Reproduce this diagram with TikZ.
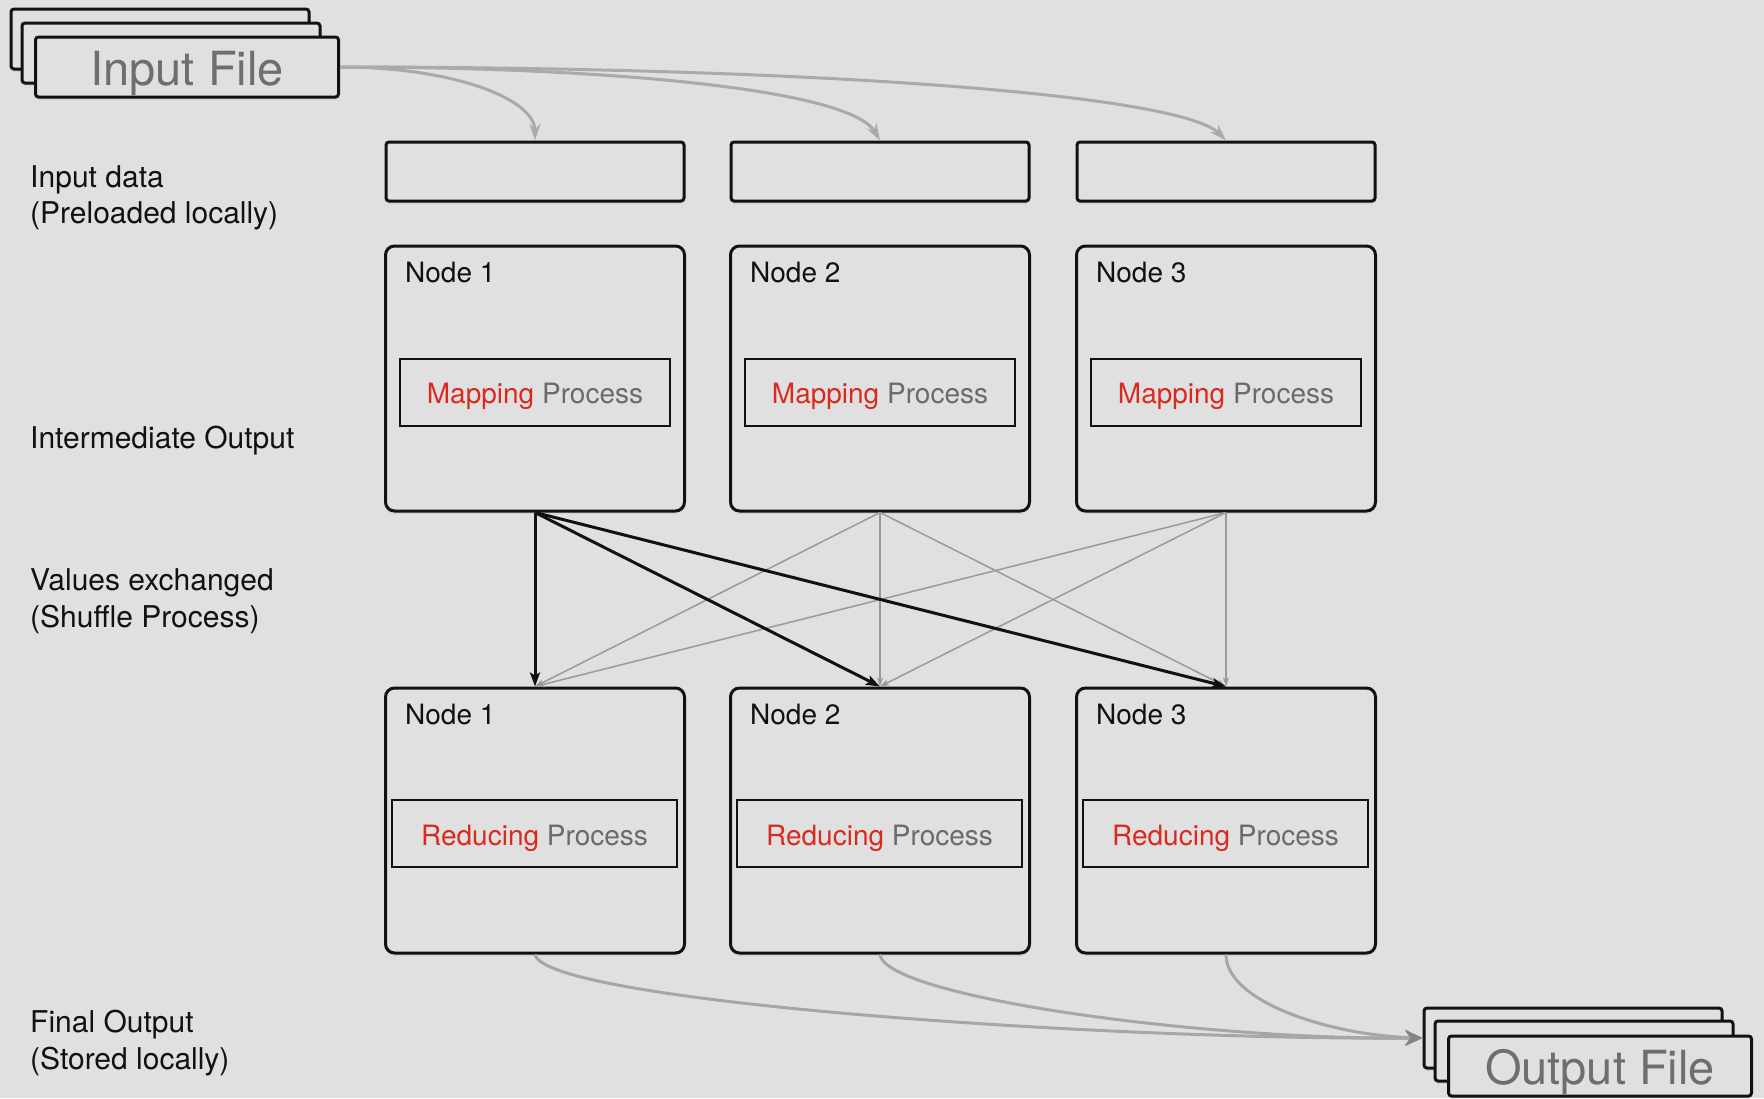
\documentclass[tikz,border=0pt]{standalone}
\usepackage{fontspec}
\setmainfont{TeX Gyre Heros}
\usetikzlibrary{arrows.meta,shadows}
\definecolor{bg}{HTML}{E0E0E0}
\definecolor{ink}{HTML}{111111}
\definecolor{mapred}{HTML}{D92A1E}
\definecolor{procgray}{HTML}{6A6A6A}
\definecolor{filegray}{HTML}{6E6E6E}
\definecolor{feedgray}{HTML}{AAAAAA}
\definecolor{shufgray}{HTML}{9A9A9A}
\definecolor{outgray}{HTML}{A6A6A6}
\definecolor{tipgray}{HTML}{858585}

\begin{document}
\begin{tikzpicture}[x=1pt,y=-1pt,
  softshadow/.style={drop shadow={opacity=0.13,shadow xshift=0pt,shadow yshift=-3pt}},
  sheet/.style={draw=ink,line width=3pt,fill=bg,rounded corners=3pt,
    minimum width=298pt,minimum height=60pt,inner sep=0pt,softshadow},
  frontsheet/.style={sheet,minimum width=303pt,text=filegray,
    font=\fontsize{47}{56}\selectfont,text height=46pt,text depth=10pt},
  databox/.style={draw=ink,line width=3pt,fill=bg,rounded corners=3pt,
    minimum width=298pt,minimum height=59pt,inner sep=0pt,softshadow},
  hostbox/.style={draw=ink,line width=3pt,fill=bg,rounded corners=9pt,
    minimum width=299pt,minimum height=265pt,inner sep=0pt,softshadow},
  taskbox/.style={draw=ink,line width=2pt,minimum height=67pt,inner sep=0pt,
    font=\fontsize{28}{34}\selectfont,text height=29pt,text depth=6pt},
  hostlabel/.style={anchor=base west,inner sep=0pt,text=ink,font=\fontsize{28}{34}\selectfont},
  sidelabel/.style={anchor=base west,inner sep=0pt,text=ink,font=\fontsize{30}{37}\selectfont},
  feed/.style={draw=feedgray,line width=3pt,-{Stealth[length=17pt,width=11pt,inset=6pt]}},
  mainshuffle/.style={draw=ink,line width=3pt,-{Stealth[length=14pt,width=10pt,inset=3pt]}},
  sideshuffle/.style={draw=shufgray,line width=1.5pt,-{Stealth[length=9pt,width=6pt,inset=2pt]}},
  collect/.style={draw=outgray,line width=3pt,-{Stealth[length=17pt,width=15pt,inset=5pt,color=tipgray]}}
]
\useasboundingbox (0,0) rectangle (1764,1098);
\fill[bg] (0,0) rectangle (1764,1098);

% input file stack
\node[sheet] (inback) at (160,39) {};
\node[sheet] (inmid) at (171,53) {};
\node[frontsheet] (infile) at (187,67) {Input File};

% side labels
\node[sidelabel] (lbldata) at (30,187) {Input data};
\node[sidelabel] (lbldata2) at (30,223) {(Preloaded locally)};
\node[sidelabel] (lblinter) at (30,448) {Intermediate Output};
\node[sidelabel] (lblshuf) at (30,590) {Values exchanged};
\node[sidelabel] (lblshuf2) at (30,627) {(Shuffle Process)};
\node[sidelabel] (lblfinal) at (30,1032) {Final Output};
\node[sidelabel] (lblfinal2) at (30,1069) {(Stored locally)};

% input splits, mapper hosts and reducer hosts
\foreach \i/\x in {1/535,2/880,3/1226}{
  \node[databox] (d\i) at (\x,171.5) {};
  \node[hostbox] (m\i) at (\x,378.5) {};
  \node[hostlabel] (m\i label) at ([xshift=21pt,yshift=-38pt]m\i.north west) {Node \i};
  \node[taskbox,minimum width=270pt] (m\i task) at (\x,392)
    {\textcolor{mapred}{Mapping} \textcolor{procgray}{Process}};
  \node[hostbox] (r\i) at (\x,820.5) {};
  \node[hostlabel] (r\i label) at ([xshift=21pt,yshift=-38pt]r\i.north west) {Node \i};
  \node[taskbox,minimum width=285pt] (r\i task) at (\x-0.5,833.5)
    {\textcolor{mapred}{Reducing} \textcolor{procgray}{Process}};
}

% output file stack
\node[sheet] (outback) at (1573,1038) {};
\node[sheet] (outmid) at (1584,1051) {};
\node[frontsheet] (outfile) at (1600,1066) {Output File};

% input file distributed to the splits
\draw[feed] (infile.east) .. controls +(112,0) and +(0,-42) .. (d1.north);
\draw[feed] (infile.east) .. controls +(262,0) and +(-30,-52) .. (d2.north);
\draw[feed] (infile.east) .. controls +(462,0) and +(-46,-47) .. (d3.north);

% shuffle: every mapper feeds every reducer
\foreach \s in {2,3}{
  \foreach \t in {1,2,3}{
    \draw[sideshuffle] (m\s.south) -- (r\t.north);
  }
}
\foreach \t in {1,2,3}{
  \draw[mainshuffle] (m1.south) -- (r\t.north);
}

% reducer results gathered into the output file
\draw[collect] (r1.south) .. controls +(10,47) and +(-324,2) .. (outback.west);
\draw[collect] (r2.south) .. controls +(5,42) and +(-224,2) .. (outback.west);
\draw[collect] (r3.south) .. controls +(0,47) and +(-94,-3) .. (outback.west);
\end{tikzpicture}
\end{document}
